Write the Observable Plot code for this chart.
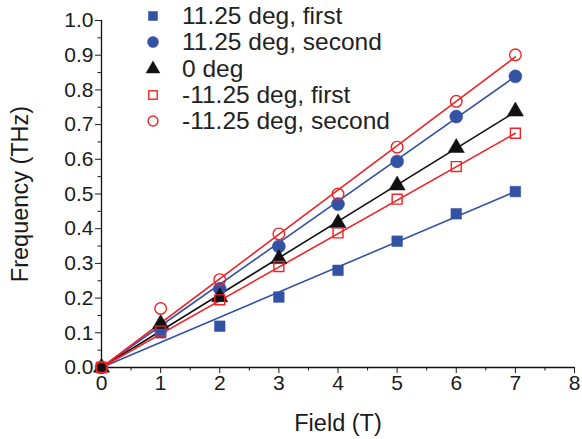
<!DOCTYPE html>
<html>
<head>
<meta charset="utf-8">
<script src="https://cdn.jsdelivr.net/npm/d3@7"></script>
<script src="https://cdn.jsdelivr.net/npm/@observablehq/plot@0.6"></script>
<style>
  html, body { margin: 0; padding: 0; background: #fff; }
  #wrap { position: relative; width: 582px; height: 439px; font-family: "Liberation Sans", Arial, sans-serif; }
  #legend { position: absolute; left: 141px; top: 3px; font-size: 24.5px; color: #222; line-height: 26.3px; }
  #legend .row { display: flex; align-items: center; white-space: nowrap; }
  #legend svg { width: 24px; height: 24px; margin-right: 17px; overflow: visible; }
</style>
</head>
<body>
<div id="wrap"><div id="legend"></div></div>
<script>
// ---- data ----
const field = [0, 1, 2, 3, 4, 5, 6, 7];
const seriesNames = ["11.25 deg, first", "11.25 deg, second", "0 deg", "-11.25 deg, first", "-11.25 deg, second"];
const pos1st = [0, 0.100, 0.119, 0.203, 0.280, 0.364, 0.443, 0.507];
const pos2nd = [0, 0.110, 0.227, 0.349, 0.471, 0.594, 0.723, 0.839];
const zeroDeg = [0, 0.126, 0.203, 0.313, 0.416, 0.525, 0.633, 0.738];
const neg1st = [0, 0.105, 0.195, 0.291, 0.388, 0.485, 0.579, 0.675];
const neg2nd = [0, 0.170, 0.253, 0.385, 0.500, 0.635, 0.767, 0.901];
// linear fits through the origin: value of each fit at the field range ends
const fitField = [0, 7];
const fitStart = [0, 0, 0, 0, 0];
const fitEnd = [0.507, 0.839, 0.737, 0.675, 0.895];
const xTicks = [0, 1, 2, 3, 4, 5, 6, 7, 8];
const xMinorTicks = [0.5, 1.5, 2.5, 3.5, 4.5, 5.5, 6.5, 7.5];
const yTicks = [0, 0.1, 0.2, 0.3, 0.4, 0.5, 0.6, 0.7, 0.8, 0.9, 1.0];
const yMinorTicks = [0.05, 0.15, 0.25, 0.35, 0.45, 0.55, 0.65, 0.75, 0.85, 0.95];
const xTitle = "Field (T)";
const yTitle = "Frequency (THz)";

// ---- styles ----
const BLUE = "#3452a4", RED = "#ee2428", BLACK = "#111";
const styles = [
  {color: BLUE, symbol: "square", filled: true, r: 6},
  {color: BLUE, symbol: "circle", filled: true, r: 6.5},
  {color: BLACK, symbol: "triangle", filled: true, r: 6},
  {color: RED, symbol: "square", filled: false, r: 5.6},
  {color: RED, symbol: "circle", filled: false, r: 5.8}
];

const allValues = [pos1st, pos2nd, zeroDeg, neg1st, neg2nd];
const points = seriesNames.map((name, i) => field.map((f, j) => ({series: name, field: f, freq: allValues[i][j]})));
const fits = seriesNames.map((name, i) => [
  {series: name, field: fitField[0], freq: fitStart[i]},
  {series: name, field: fitField[1], freq: fitEnd[i]}
]);

const FS = 21, TS = 23.5;
const marks = [
  Plot.axisX({ticks: xTicks, tickSize: 6, tickPadding: 2, fontSize: FS, tickFormat: d => String(d), label: null}),
  Plot.axisX({ticks: [], tickSize: 0, fontSize: TS, label: xTitle, labelArrow: "none", labelAnchor: "center", labelOffset: 63}),
  Plot.axisX({ticks: xMinorTicks, tickSize: 3.5, tickFormat: () => "", label: null}),
  Plot.axisY({ticks: yTicks, tickSize: 6, tickPadding: 2, fontSize: FS, tickFormat: d3.format(".1f"), label: null}),
  Plot.axisY({ticks: [], tickSize: 0, fontSize: TS, label: yTitle, labelArrow: "none", labelAnchor: "center", labelOffset: 90}),
  Plot.axisY({ticks: yMinorTicks, tickSize: 3.5, tickFormat: () => "", label: null}),
  Plot.ruleX([0], {stroke: BLACK, strokeWidth: 1.3}),
  Plot.ruleY([0], {stroke: BLACK, strokeWidth: 1.3})
];
fits.forEach((d, i) => marks.push(Plot.line(d, {x: "field", y: "freq", stroke: styles[i].color, strokeWidth: 1.6})));
points.forEach((d, i) => {
  const s = styles[i];
  marks.push(Plot.dot(d, {
    x: "field", y: "freq", symbol: () => s.symbol, r: s.r,
    fill: s.filled ? s.color : "none",
    stroke: s.color, strokeWidth: s.filled ? 0.5 : 1.4
  }));
});

const chart = Plot.plot({
  width: 582, height: 439,
  marginLeft: 101, marginRight: 8, marginTop: 20, marginBottom: 72,
  x: {domain: [0, 8]},
  y: {domain: [0, 1]},
  symbol: {type: "identity"},
  style: {fontFamily: "'Liberation Sans', Arial, sans-serif", fontSize: "21px", color: "#1a1a1a", background: "white", overflow: "visible"},
  marks
});
document.getElementById("wrap").prepend(chart);

// ---- legend ----
const legend = document.getElementById("legend");
const shapePath = {
  square: r => { const h = r * Math.sqrt(Math.PI) / 2; return `<rect x="${12 - h}" y="${12 - h}" width="${2 * h}" height="${2 * h}"/>`; },
  circle: r => `<circle cx="12" cy="12" r="${r}"/>`,
  triangle: r => { const p = d3.symbol(d3.symbolTriangle, Math.PI * r * r)(); return `<path transform="translate(12,12)" d="${p}"/>`; }
};
seriesNames.forEach((name, i) => {
  const s = styles[i];
  const row = document.createElement("div");
  row.className = "row";
  const fill = s.filled ? s.color : "none";
  row.innerHTML = `<svg viewBox="0 0 24 24"><g fill="${fill}" stroke="${s.color}" stroke-width="${s.filled ? 0.5 : 1.4}">${shapePath[s.symbol](s.r * 0.85)}</g></svg><span>${name}</span>`;
  legend.appendChild(row);
});
</script>
</body>
</html>
